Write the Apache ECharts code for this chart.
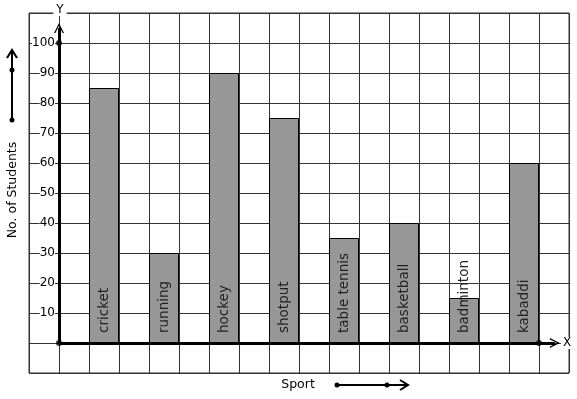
<!DOCTYPE html>
<html>
<head>
<meta charset="utf-8">
<script src="https://cdn.jsdelivr.net/npm/echarts@6/dist/echarts.min.js"></script>
<style>
  html, body { margin: 0; padding: 0; background: #fff; }
  #chart { width: 577px; height: 399px; }
</style>
</head>
<body>
<div id="chart"></div>
<script>
// data
var sports = ["cricket", "running", "hockey", "shotput", "table tennis", "basketball", "badminton", "kabaddi"];
var students = [85, 30, 90, 75, 35, 40, 15, 60];
var yTicks = [10, 20, 30, 40, 50, 60, 70, 80, 90, 100];
// marked points on the axes
var axisDots = [[0, 0], [16, 0], [0, 100]];

var font = "DejaVu Sans";
// open arrow head, pointing up (markLine rotates it)
var chevron = "path://M0,10 L5,0 L10,10 L8.6,10 L5,2.8 L1.4,10 Z";

var chart = echarts.init(document.getElementById("chart"));

// each sport sits in every second grid column, starting at x=1
var barData = students.map(function (v, i) {
  return [2 * i + 1.5, v];
});

var option = {
  animation: false,
  backgroundColor: "#fff",
  grid: {
    left: 29,
    top: 13,
    width: 540,
    height: 360,
    show: true,
    borderColor: "#333",
    borderWidth: 1
  },
  xAxis: {
    type: "value",
    min: -1,
    max: 17,
    interval: 1,
    axisLine: { show: false },
    axisTick: { show: false },
    axisLabel: { show: false },
    splitLine: { show: true, lineStyle: { color: "#333", width: 1 } }
  },
  yAxis: {
    type: "value",
    min: -10,
    max: 110,
    interval: 10,
    axisLine: { show: false },
    axisTick: { show: false },
    axisLabel: {
      inside: true,
      margin: 26,
      align: "right",
      verticalAlign: "middle",
      color: "#000",
      fontFamily: font,
      fontSize: 12,
      backgroundColor: "#fff",
      formatter: function (v) {
        return yTicks.indexOf(v) >= 0 ? String(v) : "";
      }
    },
    splitLine: { show: true, lineStyle: { color: "#333", width: 1 } }
  },
  series: [
    {
      type: "bar",
      data: barData,
      barWidth: 30,
      z: 3,
      itemStyle: { color: "#979797", borderColor: "#000", borderWidth: 1 },
      label: {
        show: true,
        position: "insideBottom",
        distance: 10,
        rotate: 90,
        align: "left",
        verticalAlign: "middle",
        color: "#222",
        fontFamily: font,
        fontSize: 13.5,
        formatter: function (p) {
          return sports[p.dataIndex];
        }
      }
    },
    {
      type: "scatter",
      data: axisDots,
      symbolSize: 6,
      z: 5,
      itemStyle: { color: "#000" },
      markLine: {
        silent: true,
        symbol: ["none", chevron],
        symbolSize: [10, 10],
        label: { show: false },
        lineStyle: { color: "#000", width: 3, type: "solid" },
        data: [
          [{ coord: [0, 0] }, { coord: [16.53, 0] }],
          [{ coord: [0, 0] }, { coord: [0, 105] }]
        ]
      }
    }
  ],
  graphic: [
    {
      type: "text", z: 100,
      style: { text: "Y", x: 60, y: 10, align: "center", verticalAlign: "middle",
        font: "12px " + font, fill: "#000", backgroundColor: "#fff", padding: [0, 3] }
    },
    {
      type: "text", z: 100,
      style: { text: "X", x: 567, y: 343, align: "center", verticalAlign: "middle",
        font: "12px " + font, fill: "#000", backgroundColor: "#fff", padding: [0, 2] }
    },
    {
      type: "text", z: 100,
      style: { text: "Sport", x: 298, y: 385, align: "center", verticalAlign: "middle",
        font: "12.5px " + font, fill: "#000" }
    },
    {
      type: "text", z: 100, x: 13, y: 190, rotation: Math.PI / 2,
      style: { text: "No. of Students", x: 0, y: 0, align: "center", verticalAlign: "middle",
        font: "12.5px " + font, fill: "#000" }
    },
    // vertical arrow beside the y label
    { type: "line", z: 100, shape: { x1: 12, y1: 120, x2: 12, y2: 51 }, style: { stroke: "#000", lineWidth: 2 } },
    { type: "polyline", z: 100, shape: { points: [[7, 58], [12, 50], [17, 58]] }, style: { stroke: "#000", lineWidth: 2, fill: null } },
    { type: "circle", z: 100, shape: { cx: 12, cy: 120, r: 2.5 }, style: { fill: "#000" } },
    { type: "circle", z: 100, shape: { cx: 12, cy: 70, r: 2.5 }, style: { fill: "#000" } },
    // horizontal arrow beside the x label
    { type: "line", z: 100, shape: { x1: 337, y1: 385, x2: 407, y2: 385 }, style: { stroke: "#000", lineWidth: 2 } },
    { type: "polyline", z: 100, shape: { points: [[400, 380], [408, 385], [400, 390]] }, style: { stroke: "#000", lineWidth: 2, fill: null } },
    { type: "circle", z: 100, shape: { cx: 337, cy: 385, r: 2.5 }, style: { fill: "#000" } },
    { type: "circle", z: 100, shape: { cx: 387, cy: 385, r: 2.5 }, style: { fill: "#000" } }
  ]
};

chart.setOption(option);
</script>
</body>
</html>
